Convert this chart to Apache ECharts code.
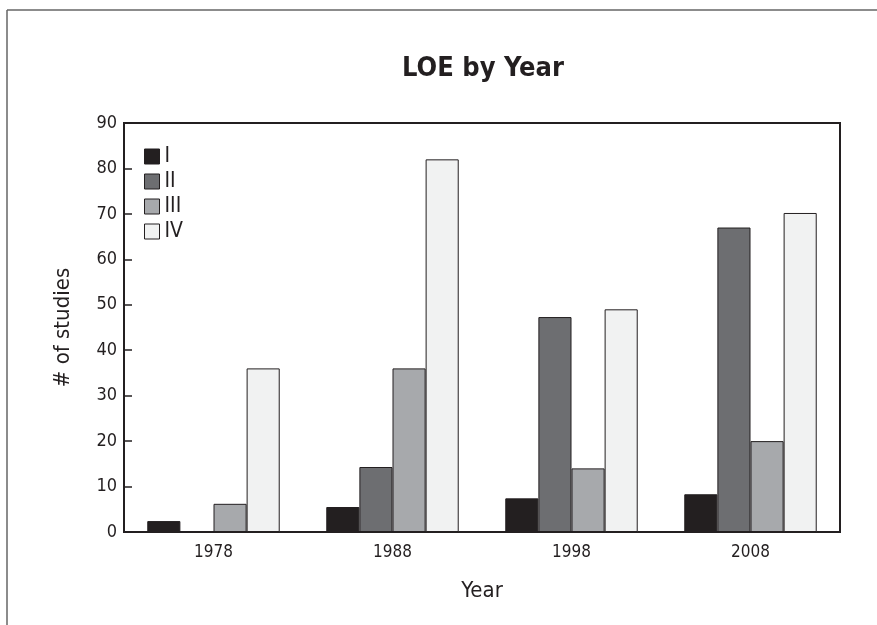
<!DOCTYPE html>
<html lang="en">
<head>
    <meta charset="UTF-8">
    <title>LOE by Year</title>
    <script src="https://cdn.jsdelivr.net/npm/echarts@6/dist/echarts.min.js"></script>
</head>
<body style="margin:0;background:#fff;">
 <div id="myChart" style="width: 877px;height: 625px;"></div>
 <script>
     // 数据
     var years = ['1978', '1988', '1998', '2008'];
     var levelNames = ['I', 'II', 'III', 'IV'];
     var levelI = [2.4, 5.5, 7.4, 8.3];
     var levelII = [0, 14.3, 47.3, 67];
     var levelIII = [6.2, 36, 14, 20];
     var levelIV = [36, 82, 49, 70.2];
     var yTicks = [0, 10, 20, 30, 40, 50, 60, 70, 80, 90];

     var font = "'Liberation Sans Narrow', 'DejaVu Sans Condensed', 'Roboto', sans-serif";
     var colors = ['#231f20', '#6d6e71', '#a7a9ac', '#f1f2f2'];
     var values = [levelI, levelII, levelIII, levelIV];

     var series = levelNames.map(function (name, i) {
         return {
             name: name,
             type: 'bar',
             data: values[i],
             barGap: 0,
             barCategoryGap: '26%',
             itemStyle: {color: colors[i], borderColor: '#231f20', borderWidth: 1}
         };
     });

     var option = {
         animation: false,
         backgroundColor: '#fff',
         title: {
             text: 'LOE by Year',
             left: 478,
             textAlign: 'center',
             top: 50,
             textStyle: {fontFamily: font, fontWeight: 'bold', fontSize: 27, color: '#231f20'}
         },
         legend: {
             data: levelNames,
             orient: 'vertical',
             left: 139,
             top: 141,
             itemWidth: 15,
             itemHeight: 15,
             itemGap: 4,
             icon: 'rect',
             itemStyle: {borderColor: '#231f20', borderWidth: 1},
             textStyle: {fontFamily: font, fontSize: 21, lineHeight: 21, color: '#231f20'}
         },
         grid: {
             left: 124, right: 37, top: 123, bottom: 93,
             show: true, borderColor: '#231f20', borderWidth: 2
         },
         xAxis: {
             type: 'category',
             data: years,
             name: 'Year',
             nameLocation: 'middle',
             nameGap: 48,
             nameTextStyle: {fontFamily: font, fontSize: 22, color: '#231f20'},
             axisLine: {lineStyle: {color: '#231f20', width: 2}},
             axisTick: {inside: true, length: 8, lineStyle: {color: '#231f20', width: 1.5}},
             axisLabel: {fontFamily: font, fontSize: 17, color: '#231f20', margin: 12}
         },
         yAxis: {
             type: 'value',
             min: yTicks[0],
             max: yTicks[yTicks.length - 1],
             interval: 10,
             name: '# of studies',
             nameLocation: 'middle',
             nameGap: 50,
             nameTextStyle: {fontFamily: font, fontSize: 22, color: '#231f20'},
             axisLine: {show: true, lineStyle: {color: '#231f20', width: 2}},
             axisTick: {show: true, inside: true, length: 8, lineStyle: {color: '#231f20', width: 1.5}},
             axisLabel: {fontFamily: font, fontSize: 18, color: '#231f20', margin: 7},
             splitLine: {show: false}
         },
         // 外框
         graphic: [
             {type: 'line', shape: {x1: 7, y1: 10, x2: 877, y2: 10}, style: {stroke: '#666', lineWidth: 1.5}},
             {type: 'line', shape: {x1: 7, y1: 10, x2: 7, y2: 625}, style: {stroke: '#666', lineWidth: 1.5}}
         ],
         series: series
     };
     var myChart = echarts.init(document.getElementById('myChart'));
     myChart.setOption(option);
 </script>
</body>
</html>
